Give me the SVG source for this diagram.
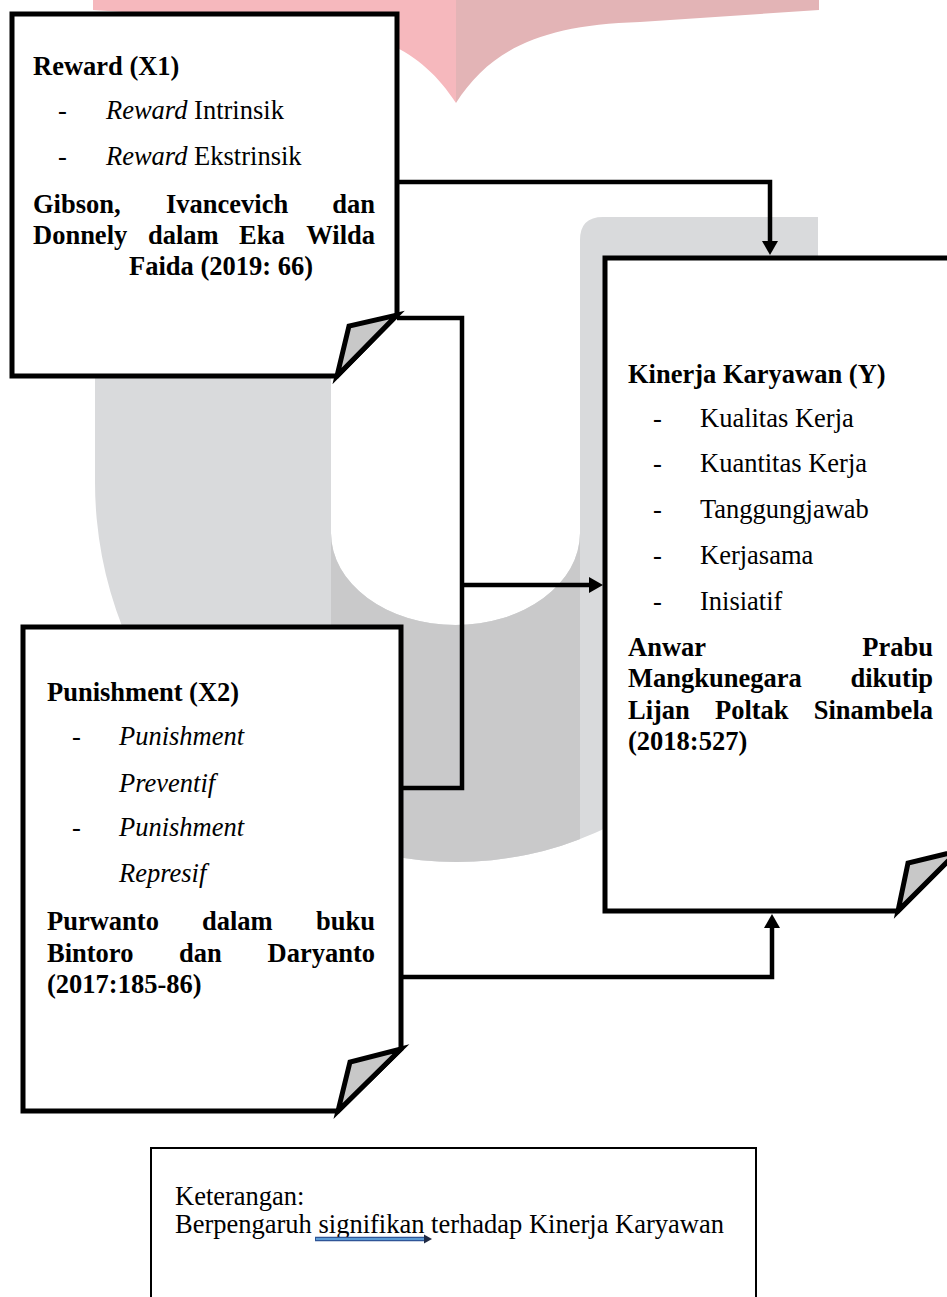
<svg xmlns="http://www.w3.org/2000/svg" width="947" height="1297" viewBox="0 0 947 1297">
<style>
.t{font-family:'Liberation Serif','Times New Roman',serif;font-size:26.5px;fill:#000}
.b{font-weight:bold}
.i{font-style:italic}
.e{text-anchor:end}
.box{fill:#fff;stroke:#000;stroke-width:5;stroke-linejoin:miter;stroke-miterlimit:10}
.fold{fill:#c8c8c8;stroke:#000;stroke-width:5;stroke-linejoin:miter;stroke-miterlimit:10}
.con{fill:none;stroke:#000;stroke-width:4.5;stroke-linejoin:miter}
</style>
<defs>
<marker id="ah" viewBox="0 0 14 16" refX="6" refY="8" markerWidth="14" markerHeight="16" markerUnits="userSpaceOnUse" orient="auto">
<path d="M0,0 L14,8 L0,16 Z" fill="#000"/>
</marker>
<clipPath id="uclip">
<path d="M95 217 H331 V533 A124.5 92 0 0 0 580 533 V240 Q580 217 603 217 H818 V482 A361.5 380 0 0 1 95 482 Z"/>
</clipPath>
</defs>
<rect width="947" height="1297" fill="#fff"/>
<g id="watermark">
<path d="M93 0 H456 V103 C422 50 372 25 272 22 L93 10 Z" fill="#f6b8bd"/>
<path d="M456 0 H819 V10 L640 22 C540 25 490 50 456 103 Z" fill="#e3b4b6"/>
<path d="M95 217 H331 V533 A124.5 92 0 0 0 580 533 V240 Q580 217 603 217 H818 V482 A361.5 380 0 0 1 95 482 Z" fill="#d9dadc"/>
<rect x="331" y="500" width="249" height="380" fill="#c9c9ca" clip-path="url(#uclip)"/>
</g>
<g id="connectors">
<path class="con" d="M397 182 H770 V247" marker-end="url(#ah)"/>
<path class="con" d="M397 318 H462 V788 H401"/>
<path class="con" d="M462 585 H595" marker-end="url(#ah)"/>
<path class="con" d="M400 977 H772 V922" marker-end="url(#ah)"/>
</g>
<g id="reward">
<path class="box" d="M12 14 H397 V315 L337 376 H12 Z"/>
<path class="fold" d="M337 376 L349 326 L397 315 Z"/>
<text class="t b" x="33" y="75">Reward (X1)</text>
<text class="t" x="58" y="119">-</text>
<text class="t" x="106" y="119"><tspan class="i">Reward</tspan> Intrinsik</text>
<text class="t" x="58" y="165">-</text>
<text class="t" x="106" y="165"><tspan class="i">Reward</tspan> Ekstrinsik</text>
<text class="t b" x="33" y="213">Gibson,</text>
<text class="t b" x="166" y="213">Ivancevich</text>
<text class="t b e" x="375" y="213">dan</text>
<text class="t b" x="33" y="244">Donnely</text>
<text class="t b" x="148" y="244">dalam</text>
<text class="t b" x="239" y="244">Eka</text>
<text class="t b e" x="375" y="244">Wilda</text>
<text class="t b" x="129" y="275">Faida (2019: 66)</text>
</g>
<g id="punishment">
<path class="box" d="M23 627 H401 V1049 L338 1111 H23 Z"/>
<path class="fold" d="M338 1111 L350 1062 L401 1049 Z"/>
<text class="t b" x="47" y="701">Punishment (X2)</text>
<text class="t" x="72" y="745">-</text>
<text class="t i" x="119" y="745">Punishment</text>
<text class="t i" x="119" y="792">Preventif</text>
<text class="t" x="72" y="836">-</text>
<text class="t i" x="119" y="836">Punishment</text>
<text class="t i" x="119" y="882">Represif</text>
<text class="t b" x="47" y="930">Purwanto</text>
<text class="t b" x="202" y="930">dalam</text>
<text class="t b e" x="375" y="930">buku</text>
<text class="t b" x="47" y="962">Bintoro</text>
<text class="t b" x="179" y="962">dan</text>
<text class="t b e" x="375" y="962">Daryanto</text>
<text class="t b" x="47" y="993">(2017:185-86)</text>
</g>
<g id="kinerja">
<path class="box" d="M605 258 H958 V851 L898 911 H605 Z"/>
<path class="fold" d="M898 911 L908 863 L958 851 Z"/>
<text class="t b" x="628" y="383">Kinerja Karyawan (Y)</text>
<text class="t" x="653" y="427">-</text>
<text class="t" x="700" y="427">Kualitas Kerja</text>
<text class="t" x="653" y="472">-</text>
<text class="t" x="700" y="472">Kuantitas Kerja</text>
<text class="t" x="653" y="518">-</text>
<text class="t" x="700" y="518">Tanggungjawab</text>
<text class="t" x="653" y="564">-</text>
<text class="t" x="700" y="564">Kerjasama</text>
<text class="t" x="653" y="610">-</text>
<text class="t" x="700" y="610">Inisiatif</text>
<text class="t b" x="628" y="656">Anwar</text>
<text class="t b e" x="933" y="656">Prabu</text>
<text class="t b" x="628" y="687">Mangkunegara</text>
<text class="t b e" x="933" y="687">dikutip</text>
<text class="t b" x="628" y="719">Lijan</text>
<text class="t b" x="715" y="719">Poltak</text>
<text class="t b e" x="933" y="719">Sinambela</text>
<text class="t b" x="628" y="750">(2018:527)</text>
</g>
<g id="legend">
<rect x="151" y="1148" width="605" height="200" fill="#fff" stroke="#000" stroke-width="2"/>
<text class="t" x="175" y="1205">Keterangan:</text>
<text class="t" x="175" y="1233">Berpengaruh signifikan terhadap Kinerja Karyawan</text>
<path d="M315 1239 H426" stroke="#2f5597" stroke-width="4.5" fill="none"/>
<path d="M316 1239 H425" stroke="#5b9bd5" stroke-width="2" fill="none"/>
<path d="M424 1234.5 L432 1239 L424 1243.5 Z" fill="#1f2a44"/>
</g>
</svg>
